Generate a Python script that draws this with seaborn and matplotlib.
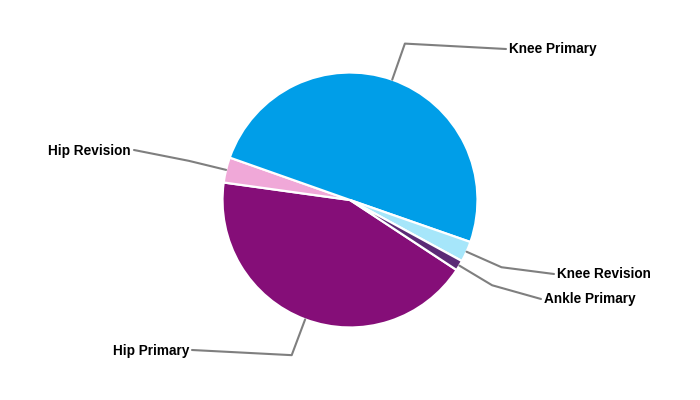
import matplotlib
matplotlib.use('Agg')
import numpy as np
import seaborn as sns
import matplotlib.pyplot as plt

# data
labels = ['Hip Primary', 'Hip Revision', 'Knee Primary', 'Knee Revision', 'Ankle Primary']
shares = [42.9, 3.2, 49.9, 2.6, 1.3]
colors = ['#850e78', '#f0a8d8', '#009ee8', '#a6e6fa', '#5b2a76']

# label anchor positions in pixels (y from top), and alignment
label_x = [189, 131, 509, 557, 544]
label_y = [349, 149, 48, 273, 298]
label_ha = ['right', 'right', 'left', 'left', 'left']

sns.set_theme(style='white')
plt.rcParams['font.family'] = ['Liberation Sans', 'DejaVu Sans']

W, H = 700, 400
cx, cy, r = 350, 200, 127.5

fig = plt.figure(figsize=(7, 4), dpi=100)
ax = fig.add_axes([0, 0, 1, 1])
wedges, _ = ax.pie(shares, colors=colors, startangle=-33.3, counterclock=False,
                   center=(cx, cy), radius=r,
                   wedgeprops=dict(edgecolor='white', linewidth=1.6))
ax.set_xlim(0, W)
ax.set_ylim(0, H)
ax.set_aspect('equal')
ax.axis('off')

# leader lines and labels
for w, name, lx, ly, ha in zip(wedges, labels, label_x, label_y, label_ha):
    mid = np.deg2rad((w.theta1 + w.theta2) / 2)
    x0, y0 = cx + r * np.cos(mid), cy + r * np.sin(mid)
    x1, y1 = cx + 1.3 * r * np.cos(mid), cy + 1.3 * r * np.sin(mid)
    x2 = lx - 3 if ha == 'left' else lx + 3
    y2 = H - ly - 1
    ax.plot([x0, x1, x2], [y0, y1, y2], color='#7f7f7f', lw=1.5,
            solid_joinstyle='round')
    ax.text(lx, H - ly - 1.5, name, ha=ha, va='center', fontsize=9.8,
            fontweight='bold', color='black')

fig.savefig('out.png', dpi=100)
